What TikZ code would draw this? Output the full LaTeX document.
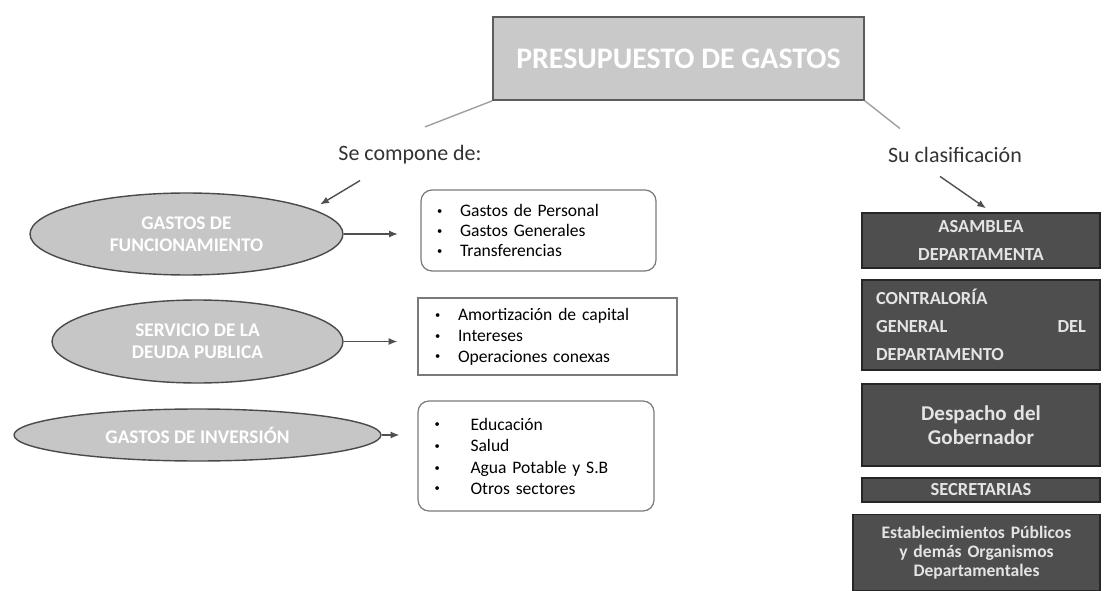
\documentclass[tikz,border=0pt]{standalone}
\usepackage{fontspec}
\setmainfont{Carlito}
\usetikzlibrary{shapes.geometric,arrows.meta}
\definecolor{titlegray}{HTML}{C9C9C9}
\definecolor{titleline}{HTML}{5C5C5C}
\definecolor{ovalgray}{HTML}{C6C6C6}
\definecolor{ovalline}{HTML}{4A4A4A}
\definecolor{boxline}{HTML}{7A7A7A}
\definecolor{classgray}{HTML}{4E4E4E}
\definecolor{classtext}{HTML}{E4E4E4}
\definecolor{labeltext}{HTML}{333333}
\definecolor{linkgray}{HTML}{A0A0A0}
\definecolor{arrowgray}{HTML}{505050}
\newcommand{\itm}[2]{\makebox[#1][l]{\raisebox{1.2pt}{\fontsize{6}{6}\selectfont\textbullet}}#2}
\begin{document}
\begin{tikzpicture}[x=0.02cm,y=-0.02cm,
    titlebox/.style={draw=titleline,fill=titlegray,line width=1pt,minimum width=7.42cm,minimum height=1.66cm,text=white,font=\fontsize{17}{20}\selectfont\bfseries},
    oval/.style={ellipse,draw=ovalline,fill=ovalgray,line width=0.8pt,inner sep=0pt,text=white,align=center,font=\fontsize{11}{12.5}\selectfont\bfseries},
    listbox/.style={draw=boxline,line width=0.7pt,inner xsep=0.32cm,align=left,font=\fontsize{10}{11.6}\selectfont},
    classbox/.style={draw=black!85,fill=classgray,line width=0.8pt,text=classtext,inner xsep=0.28cm,text width=4.2cm,align=center,font=\fontsize{10.5}{16}\selectfont\bfseries},
    lbl/.style={text=labeltext,font=\fontsize{12.5}{14}\selectfont},
    link/.style={draw=linkgray,line width=0.8pt},
    arrow/.style={draw=arrowgray,line width=0.8pt,-{Latex[length=5pt,width=4pt]}}]
  \useasboundingbox (0,0) rectangle (1105,591);
  % nodes
  \node[titlebox] (title) at (678.5,58.5) {PRESUPUESTO DE GASTOS};
  \node[lbl] (compone) at (410,155) {Se compone de:};
  \node[lbl] (clasif) at (955,155) {Su clasificación};
  \node[oval,minimum width=6.26cm,minimum height=1.64cm] (funcion) at (186.5,234) {GASTOS DE\\FUNCIONAMIENTO};
  \node[oval,minimum width=5.82cm,minimum height=1.66cm] (deuda) at (197.5,341.5) {SERVICIO DE LA\\DEUDA PUBLICA};
  \node[oval,minimum width=7.34cm,minimum height=1.04cm] (inversion) at (197.5,435) {GASTOS DE INVERSIÓN};
  \node[listbox,rounded corners=0.22cm,minimum width=4.7cm,minimum height=1.62cm,text width=4.06cm] (funclist) at (538.5,230.5)
    {\itm{0.46cm}{Gastos de Personal}\\\itm{0.46cm}{Gastos Generales}\\\itm{0.46cm}{Transferencias}};
  \node[listbox,minimum width=5.18cm,minimum height=1.54cm,text width=4.5cm] (deudalist) at (547.5,336.5)
    {\fontsize{10}{12.2}\selectfont\itm{0.46cm}{Amortización de capital}\\\itm{0.46cm}{Intereses}\\\itm{0.46cm}{Operaciones conexas}};
  \node[listbox,rounded corners=0.22cm,minimum width=4.72cm,minimum height=2.2cm,text width=4.06cm] (invlist) at (536,456)
    {\fontsize{10}{12.4}\selectfont\itm{0.72cm}{Educación}\\\itm{0.72cm}{Salud}\\\itm{0.72cm}{Agua Potable y S.B}\\\itm{0.72cm}{Otros sectores}};
  \node[classbox,minimum height=1.1cm] (asamblea) at (981,240.5) {ASAMBLEA\\DEPARTAMENTA};
  \node[classbox,minimum height=1.8cm,align=left] (contra) at (981,325) {CONTRALORÍA\\GENERAL\hfill DEL\\DEPARTAMENTO};
  \node[classbox,minimum height=1.64cm,font=\fontsize{12}{14}\selectfont\bfseries] (despacho) at (981,425) {Despacho del\\Gobernador};
  \node[classbox,minimum height=0.48cm,inner ysep=0pt] (secre) at (981,490) {SECRETARIAS};
  \node[classbox,minimum height=1.52cm,text width=4.7cm,inner xsep=0.12cm,font=\fontsize{10}{10.8}\selectfont\bfseries] (establec) at (976.5,552.5)
    {Establecimientos Públicos\\y demás Organismos\\Departamentales};
  % lines
  \draw[link] (title.south west) -- ([xshift=0.3cm,yshift=0.25cm]compone.north);
  \draw[link] (title.south east) -- ([xshift=-1.1cm,yshift=0.25cm]clasif.north);
  \draw[arrow] ([xshift=-1cm,yshift=-0.2cm]compone.south) -- ([xshift=0.45cm]funcion.north east);
  \draw[arrow] ([xshift=-0.3cm,yshift=-0.15cm]clasif.south) -- ([xshift=0.1cm,yshift=0.08cm]asamblea.north);
  \draw[arrow,shorten >=0.45cm] (funcion.east) -- (funcion.east -| funclist.west);
  \draw[arrow,shorten >=0.4cm] (deuda.east) -- (deuda.east -| deudalist.west);
  \draw[arrow,shorten >=0.36cm] (inversion.east) -- (inversion.east -| invlist.west);
\end{tikzpicture}
\end{document}
